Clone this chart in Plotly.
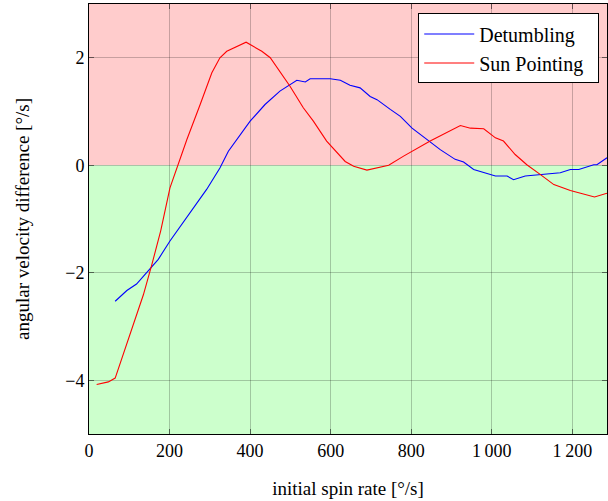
import plotly.graph_objects as go

det_x = [65, 94, 118, 127, 135, 152, 172, 201, 218, 251, 292, 325, 346, 400, 437, 474, 516, 537, 549, 599, 624,
         648, 673, 698, 715, 748, 773, 802, 838, 872, 909, 930, 955, 1009, 1038, 1054, 1083, 1120, 1170, 1195,
         1216, 1253, 1261, 1286]
det_y = [-2.53, -2.33, -2.21, -2.13, -2.08, -1.91, -1.75, -1.41, -1.23, -0.89, -0.45, -0.05, 0.26, 0.82, 1.13,
         1.38, 1.58, 1.55, 1.61, 1.61, 1.58, 1.49, 1.44, 1.28, 1.22, 1.04, 0.91, 0.69, 0.48, 0.29, 0.11, 0.06,
         -0.08, -0.20, -0.20, -0.27, -0.20, -0.17, -0.14, -0.08, -0.08, 0.01, 0.01, 0.14]

sun_x = [19, 48, 65, 85, 110, 135, 156, 178, 201, 218, 243, 276, 305, 325, 342, 390, 429, 450, 474, 499, 532,
         557, 590, 624, 636, 657, 690, 744, 781, 847, 922, 947, 980, 1009, 1029, 1058, 1087, 1120, 1154, 1195,
         1220, 1255, 1286]
sun_y = [-4.08, -4.03, -3.96, -3.52, -2.96, -2.41, -1.85, -1.22, -0.42, -0.05, 0.48, 1.13, 1.72, 2.0, 2.12,
         2.29, 2.12, 2.0, 1.75, 1.47, 1.07, 0.82, 0.45, 0.17, 0.07, -0.02, -0.09, 0.0, 0.17, 0.45, 0.74, 0.69,
         0.68, 0.51, 0.45, 0.20, 0.01, -0.17, -0.36, -0.47, -0.52, -0.59, -0.52]

series_names = ["Detumbling", "Sun Pointing"]

x_ticks = [0, 200, 400, 600, 800, 1000, 1200]
x_ticktext = ["0", "200", "400", "600", "800", "1\u2009000", "1\u2009200"]
y_ticks = [-4, -2, 0, 2]
y_ticktext = ["\u22124", "\u22122", "0", "2"]

X_MAX = 1286
Y_MIN, Y_MAX = -5, 3

FAMILY = "Liberation Serif, Times New Roman, serif"
tick_font = dict(family=FAMILY, size=18, color="black")
title_font = dict(family=FAMILY, size=19, color="black")

fig = go.Figure()
fig.add_trace(go.Scatter(x=det_x, y=det_y, mode="lines", name=series_names[0] + "\u00a0\u00a0",
                         line=dict(color="blue", width=1.1)))
fig.add_trace(go.Scatter(x=sun_x, y=sun_y, mode="lines", name=series_names[1] + "\u00a0\u00a0",
                         line=dict(color="red", width=1.1)))

fig.add_shape(type="rect", x0=0, x1=X_MAX, y0=0, y1=Y_MAX, fillcolor="#FFCCCC",
              line=dict(width=0), layer="below")
fig.add_shape(type="rect", x0=0, x1=X_MAX, y0=Y_MIN, y1=0, fillcolor="#CCFFCC",
              line=dict(width=0), layer="below")

axis_common = dict(showline=True, linecolor="black", linewidth=1, mirror="ticks",
                   ticks="inside", ticklen=5, tickcolor="rgba(0,0,0,0.5)",
                   showgrid=True, gridcolor="rgba(0,0,0,0.22)", gridwidth=1,
                   zeroline=False, tickfont=tick_font)

fig.update_xaxes(range=[0, X_MAX], tickvals=x_ticks, ticktext=x_ticktext,
                 title=dict(text="initial spin rate [°/s]", font=title_font, standoff=22), **axis_common)
fig.update_yaxes(range=[Y_MIN, Y_MAX], tickvals=y_ticks, ticktext=y_ticktext,
                 title=dict(text="angular velocity difference [°/s]", font=title_font, standoff=30), **axis_common)

fig.update_layout(
    width=608, height=501,
    margin=dict(l=89, r=1, t=4, b=67),
    plot_bgcolor="white", paper_bgcolor="white",
    font=tick_font,
    showlegend=True,
    legend=dict(x=0.985, y=0.978, xanchor="right", yanchor="top",
                bgcolor="white", bordercolor="black", borderwidth=1,
                font=dict(family=FAMILY, size=20, color="black"),
                tracegroupgap=0, itemwidth=50),
)

fig.write_html("out.html")
